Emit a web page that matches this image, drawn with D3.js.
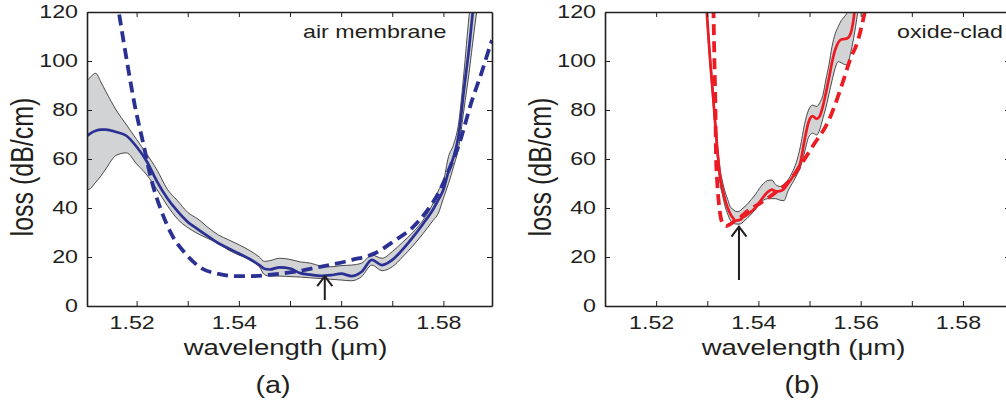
<!DOCTYPE html>
<html>
<head>
<meta charset="utf-8">
<script src="https://cdn.jsdelivr.net/npm/d3@7"></script>
<style>
  body { margin: 0; background: #fff; }
  svg { display: block; }
  text { font-family: "Liberation Sans", Arial, Helvetica, sans-serif; fill: #231f20; }
</style>
</head>
<body>
<svg id="chart" width="1006" height="404"></svg>
<script>
// Tick values / labels
var xTicks = [1.52, 1.53, 1.54, 1.55, 1.56, 1.57, 1.58];
var xTickLabels = ['1.52', '1.54', '1.56', '1.58'];
var yTicks = [0, 20, 40, 60, 80, 100, 120];

// (a) air membrane - measured loss (mean and min/max band)
var wlA = [1.5103,1.511,1.512,1.513,1.514,1.516,1.518,1.520,1.522,1.524,1.526,1.528,1.530,1.532,1.534,1.536,1.538,1.540,1.542,1.544,1.545,1.546,1.548,1.550,1.552,1.554,1.556,1.558,1.560,1.562,1.564,1.566,1.568,1.570,1.572,1.574,1.576,1.578,1.579,1.580,1.581,1.582,1.583,1.584,1.585,1.586,1.587];
var meanA = [69.4,70.5,71.5,72,72,71,69.5,65,59,50.8,44,38.7,34.3,31.3,28.4,25.6,23.5,21.4,19.3,16.7,15.2,14.9,15.8,15.3,13.4,12.8,12.3,12.6,13.2,12.2,14,18.8,16.7,18.8,23,28,33.5,39.5,43.3,47.5,55,61,70,88,105,125,140];
var highA = [92,93.5,95,91.5,87.5,80,74,68,62,55.5,47.7,43,38.2,35.5,32,29,27,25,22.8,20,18.2,18.5,19.5,19,18,17.5,16.3,16,16.5,16.7,17.5,20.8,19.5,22.2,26,30,35,42,47,51,61,66,75,95,118,135,150];
var lowA = [47.3,48,50.5,53,56,61.5,62.5,58,53.5,47.5,41,35.5,32,29.5,27.5,25.5,22.8,20.8,19.2,16,12.8,12.2,12.2,12,11.8,11.5,11.2,10.9,10.6,10.3,12,16.7,14.4,16,20,24.5,29.5,35,37.8,44,50,57,65,80,95,112,128];
// (a) model (dashed)
var fitWlA = [1.5166,1.5184,1.5197,1.5213,1.5229,1.5249,1.5269,1.5295,1.5327,1.5360,1.5392,1.5425,1.5458,1.5510,1.5555,1.5621,1.5666,1.5706,1.5738,1.5764,1.5790,1.5816,1.5829,1.5856,1.5875,1.5891,1.5895];
var fitA = [119,96.3,81.3,66.4,51.4,38.5,29,21.5,15.4,13.1,12.2,12.2,12.7,14,15.8,18.8,21.5,26.9,31.7,37.8,46,58.2,65,84,95.5,106,108.5];

// (b) oxide-clad - measured loss
var wlB = [1.5299,1.5302,1.5305,1.5310,1.5315,1.5320,1.5325,1.5330,1.5335,1.5340,1.5345,1.5350,1.5355,1.5360,1.5365,1.5370,1.5378,1.5386,1.5394,1.5402,1.5410,1.5418,1.5426,1.5434,1.5442,1.5450,1.5458,1.5466,1.5474,1.5482,1.5490,1.5498,1.5506,1.5514,1.5520,1.5526,1.5532,1.5538,1.5544,1.5550,1.5556,1.5562,1.5568,1.5574,1.5580,1.5586,1.5590,1.5594];
var meanB = [120,111,102,89,76,63,53,47.5,43.2,40,37.6,36,34.8,35,35.3,36.2,37.3,38.6,40,42.3,44.6,46.5,47.5,46.8,46.9,47.8,50,52.3,55,58.5,67.5,75,77.5,76.4,77.5,81.5,87,93,99.5,104.5,107.5,108.8,109,109.3,111,117,124,130];
var highB = [123,114,105,92,79,66,56,50.5,46.5,43.5,40.5,39.5,38.7,38.5,39,40,41.5,43.5,45.5,48,50,51.2,51.4,49.5,48.8,49.5,51.5,54.5,58.5,65,74,80,82,81.4,83,86,92.5,98.5,106,111,114,116.5,118,120,124,128,132,136];
var lowB = [117,108,99,86,73,60,50,45,40.5,37.5,35,33.9,33.5,33.4,33.5,34.3,35.8,37.5,39.5,41.5,43.2,43.8,43.8,43.8,43.2,43,47,50,53,56.5,62.5,68.8,70.5,69.8,72,76.5,81,86.5,92,97,99.7,99.3,98.6,98.4,103,109,114,119.5];
// (b) model (dashed)
var fitWlB = [1.5312,1.5314,1.5316,1.5317,1.5319,1.5322,1.5326,1.5331,1.5337,1.5344,1.5354,1.5364,1.5377,1.5403,1.5436,1.5462,1.5481,1.5507,1.5537,1.5563,1.5579,1.5595,1.5608,1.5610];
var fitB = [122,100,80,62,52,43.3,36.5,33.5,32.6,33.3,34.8,36,38.5,41.9,46.7,51.4,57,65.5,75.5,90,100.4,108.6,120,122];

// arrows marking the minimum (wavelength, tip loss, tail loss)
var arrowA = [1.5568, 12.2, 2.4];
var arrowB = [1.5362, 32.4, 10.6];

var svg = d3.select('#chart');
var ink = '#231f20';
var sx = 1.25;   // text in the figure is stretched horizontally
var yTop = 12, yBottom = 306, plotW = 405;

var drawPanel = function(p) {
  var g = svg.append('g');
  var x = d3.scaleLinear().domain(p.domain).range([p.left, p.left + plotW]);
  var y = d3.scaleLinear().domain([0, 120]).range([yBottom, yTop]);

  var clipId = 'clip' + p.tag;
  svg.append('clipPath').attr('id', clipId)
     .append('rect').attr('x', p.left).attr('y', yTop).attr('width', plotW).attr('height', yBottom - yTop);

  var pts = p.wl.map(function(w, i) { return {w: w, m: p.mean[i], lo: p.low[i], hi: p.high[i]}; });
  var fit = p.fitWl.map(function(w, i) { return {w: w, v: p.fit[i]}; });

  var plot = g.append('g').attr('clip-path', 'url(#' + clipId + ')');

  var band = d3.area()
               .x(function(d) { return x(d.w); })
               .y0(function(d) { return y(d.lo); })
               .y1(function(d) { return y(d.hi); })
               .curve(d3.curveMonotoneX);
  plot.append('path').datum(pts).attr('d', band).attr('fill', '#d1d3d4');

  var edge = function(key) {
    return d3.line().x(function(d) { return x(d.w); })
                    .y(function(d) { return y(d[key]); })
                    .curve(d3.curveMonotoneX);
  };
  ['lo', 'hi'].forEach(function(k) {
    plot.append('path').datum(pts).attr('d', edge(k))
        .attr('fill', 'none').attr('stroke', ink).attr('stroke-width', 0.8);
  });
  plot.append('path').datum(pts).attr('d', edge('m'))
      .attr('fill', 'none').attr('stroke', p.color).attr('stroke-width', 2.7);

  plot.append('path').datum(fit)
      .attr('d', d3.line().x(function(d) { return x(d.w); })
                          .y(function(d) { return y(d.v); })
                          .curve(d3.curveMonotoneX))
      .attr('fill', 'none').attr('stroke', p.color).attr('stroke-width', 3.8)
      .attr('stroke-dasharray', '11,6');

  // arrow
  var ax = x(p.arrow[0]), ay = y(p.arrow[1]), ab = y(p.arrow[2]);
  g.append('path')
   .attr('d', 'M' + ax + ',' + ab + 'V' + ay + 'M' + (ax - 7.5) + ',' + (ay + 10) + 'L' + ax + ',' + ay + 'L' + (ax + 7.5) + ',' + (ay + 10))
   .attr('fill', 'none').attr('stroke', ink).attr('stroke-width', 2);

  // axes (box with inward ticks)
  var fmt = d3.format('.2f');
  var axB = g.append('g').attr('transform', 'translate(0,' + yBottom + ')')
             .call(d3.axisBottom(x).tickValues(xTicks).tickSizeInner(-5).tickSizeOuter(0).tickPadding(10)
                     .tickFormat(function(d) { return xTickLabels.indexOf(fmt(d)) >= 0 ? fmt(d) : ''; }));
  axB.selectAll('.tick text').attr('transform', 'scale(' + sx + ',1)').attr('dx', -5 / sx);

  g.append('g').attr('transform', 'translate(0,' + yTop + ')')
   .call(d3.axisTop(x).tickValues(xTicks).tickSizeInner(-5).tickSizeOuter(0).tickFormat(''));

  var axL = g.append('g').attr('transform', 'translate(' + p.left + ',0)')
             .call(d3.axisLeft(y).tickValues(yTicks).tickSizeInner(-5).tickSizeOuter(0).tickPadding(9 / sx));
  axL.selectAll('.tick text').attr('transform', 'scale(' + sx + ',1)');

  g.append('g').attr('transform', 'translate(' + (p.left + plotW) + ',0)')
   .call(d3.axisRight(y).tickValues(yTicks).tickSizeInner(-5).tickSizeOuter(0).tickFormat(''));

  g.selectAll('.domain').attr('stroke', ink).attr('stroke-width', 1.6);
  g.selectAll('.tick line').attr('stroke', ink).attr('stroke-width', 1);
  g.selectAll('.tick text').attr('fill', ink).attr('font-size', 18.6)
   .attr('font-family', '"Liberation Sans", Arial, sans-serif');

  // labels
  var label = function(txt, tx, ty, size, anchor, rot) {
    g.append('text')
     .attr('transform', 'translate(' + tx + ',' + ty + ') scale(' + sx + ',1)' + (rot ? ' rotate(-90)' : ''))
     .attr('font-size', size).attr('text-anchor', anchor).text(txt);
  };
  label(p.name, p.nameX, 38, 18.6, 'start');
  label('loss (dB/cm)', p.left - 54, 167, 25, 'middle', true);
  label('wavelength (\u03bcm)', p.left + 198.5, 355, 22, 'middle');
  label('(' + p.tag + ')', p.tagX, 393, 23, 'middle');
};

drawPanel({tag: 'a', left: 87, domain: [1.5103, 1.5895], color: '#2b3192',
           wl: wlA, mean: meanA, low: lowA, high: highA, fitWl: fitWlA, fit: fitA,
           arrow: arrowA, name: 'air membrane', nameX: 303, tagX: 273});
drawPanel({tag: 'b', left: 605, domain: [1.5100, 1.5892], color: '#ed1c24',
           wl: wlB, mean: meanB, low: lowB, high: highB, fitWl: fitWlB, fit: fitB,
           arrow: arrowB, name: 'oxide-clad', nameX: 897, tagX: 802});
</script>
</body>
</html>
